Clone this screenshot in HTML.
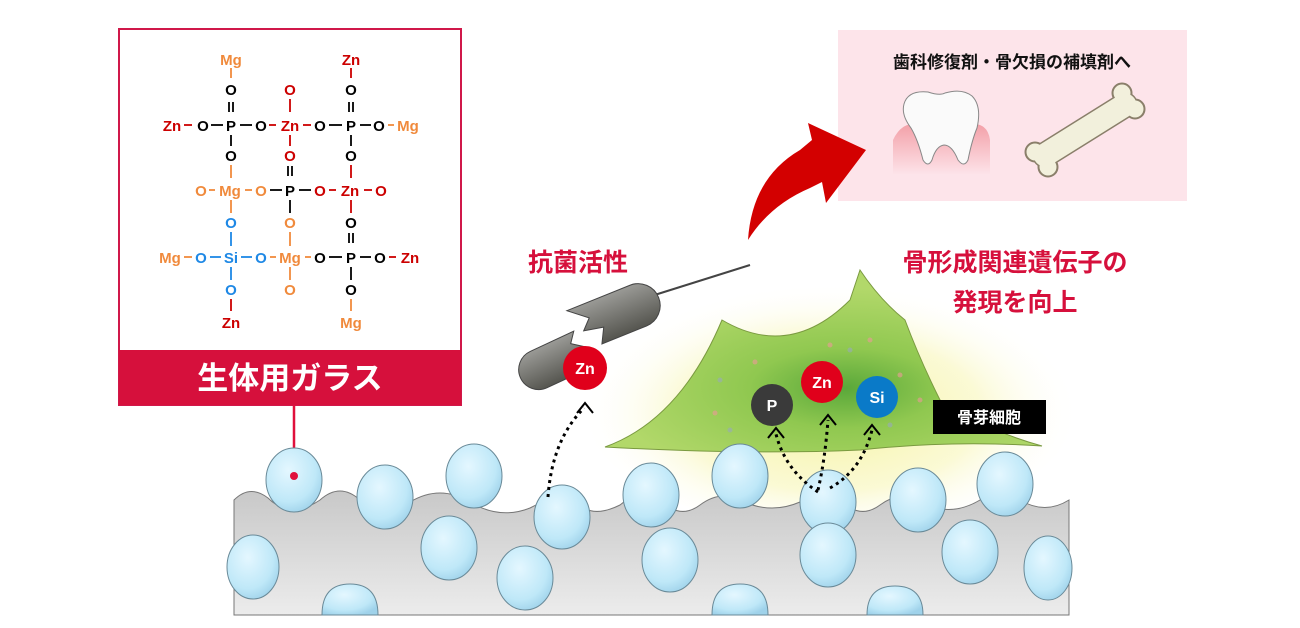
<!DOCTYPE html>
<html><head><meta charset="utf-8"><style>
html,body{margin:0;padding:0;background:#fff}
svg{display:block}
text{font-family:"Liberation Sans","Noto Sans CJK JP",sans-serif;font-weight:bold}
</style></head><body>
<svg width="1300" height="628" viewBox="0 0 1300 628" xmlns="http://www.w3.org/2000/svg">
<defs>
<radialGradient id="bub" cx="40%" cy="35%" r="70%"><stop offset="0" stop-color="#e4f7ff"/><stop offset="0.7" stop-color="#bfe8f8"/><stop offset="1" stop-color="#9fd2ea"/></radialGradient>
<linearGradient id="slab" x1="0" y1="0" x2="0" y2="1"><stop offset="0" stop-color="#c8c8c8"/><stop offset="1" stop-color="#ececec"/></linearGradient>
<radialGradient id="glow" cx="50%" cy="55%" r="50%"><stop offset="0" stop-color="#f4f29a" stop-opacity="0.95"/><stop offset="0.6" stop-color="#f8f6b8" stop-opacity="0.6"/><stop offset="1" stop-color="#fff" stop-opacity="0"/></radialGradient>
<radialGradient id="cell" cx="55%" cy="65%" r="55%"><stop offset="0" stop-color="#5aa83a"/><stop offset="0.4" stop-color="#90c850"/><stop offset="1" stop-color="#b2d86a"/></radialGradient>
<linearGradient id="gum" x1="0" y1="0" x2="0" y2="1"><stop offset="0" stop-color="#f3a0a8"/><stop offset="1" stop-color="#fde4ea"/></linearGradient>
<linearGradient id="bact" x1="0" y1="0" x2="0" y2="1"><stop offset="0" stop-color="#9a9a96"/><stop offset="1" stop-color="#55554f"/></linearGradient>
</defs>

<ellipse cx="830" cy="400" rx="250" ry="130" fill="url(#glow)"/>

<rect x="119" y="29" width="342" height="376" fill="#fff" stroke="#d0184a" stroke-width="2"/>
<rect x="119" y="350" width="342" height="55" fill="#d6103c"/>
<text x="290" y="389" font-size="31" fill="#fff" text-anchor="middle">生体用ガラス</text>
<line x1="294" y1="405" x2="294" y2="476" stroke="#e0103c" stroke-width="2.5"/>

<g font-size="15" text-anchor="middle">
<text x="231" y="65" fill="#f08a3c">Mg</text><text x="351" y="65" fill="#cc0000">Zn</text>
<text x="231" y="95" fill="#000">O</text><text x="290" y="95" fill="#cc0000">O</text><text x="351" y="95" fill="#000">O</text>
<text x="172" y="131" fill="#cc0000">Zn</text><text x="203" y="131" fill="#000">O</text><text x="231" y="131" fill="#000">P</text><text x="261" y="131" fill="#000">O</text><text x="290" y="131" fill="#cc0000">Zn</text><text x="320" y="131" fill="#000">O</text><text x="351" y="131" fill="#000">P</text><text x="379" y="131" fill="#000">O</text><text x="408" y="131" fill="#f08a3c">Mg</text>
<text x="231" y="161" fill="#000">O</text><text x="290" y="161" fill="#cc0000">O</text><text x="351" y="161" fill="#000">O</text>
<text x="201" y="196" fill="#f08a3c">O</text><text x="230" y="196" fill="#f08a3c">Mg</text><text x="261" y="196" fill="#f08a3c">O</text><text x="290" y="196" fill="#000">P</text><text x="320" y="196" fill="#cc0000">O</text><text x="350" y="196" fill="#cc0000">Zn</text><text x="381" y="196" fill="#cc0000">O</text>
<text x="231" y="228" fill="#1e88e5">O</text><text x="290" y="228" fill="#f08a3c">O</text><text x="351" y="228" fill="#000">O</text>
<text x="170" y="263" fill="#f08a3c">Mg</text><text x="201" y="263" fill="#1e88e5">O</text><text x="231" y="263" fill="#1e88e5">Si</text><text x="261" y="263" fill="#1e88e5">O</text><text x="290" y="263" fill="#f08a3c">Mg</text><text x="320" y="263" fill="#000">O</text><text x="351" y="263" fill="#000">P</text><text x="380" y="263" fill="#000">O</text><text x="410" y="263" fill="#cc0000">Zn</text>
<text x="231" y="295" fill="#1e88e5">O</text><text x="290" y="295" fill="#f08a3c">O</text><text x="351" y="295" fill="#000">O</text>
<text x="231" y="328" fill="#cc0000">Zn</text><text x="351" y="328" fill="#f08a3c">Mg</text>
</g>
<g stroke-width="1.8">
<line x1="231" y1="68" x2="231" y2="78" stroke="#f08a3c"/>
<line x1="229" y1="102" x2="229" y2="112" stroke="#000"/><line x1="233" y1="102" x2="233" y2="112" stroke="#000"/>
<line x1="231" y1="135" x2="231" y2="146" stroke="#000"/>
<line x1="231" y1="165" x2="231" y2="178" stroke="#f08a3c"/>
<line x1="231" y1="200" x2="231" y2="213" stroke="#f08a3c"/>
<line x1="231" y1="232" x2="231" y2="246" stroke="#1e88e5"/>
<line x1="231" y1="267" x2="231" y2="280" stroke="#1e88e5"/>
<line x1="231" y1="299" x2="231" y2="311" stroke="#cc0000"/>
<line x1="290" y1="99" x2="290" y2="112" stroke="#cc0000"/>
<line x1="290" y1="135" x2="290" y2="146" stroke="#cc0000"/>
<line x1="288" y1="166" x2="288" y2="176" stroke="#000"/><line x1="292" y1="166" x2="292" y2="176" stroke="#000"/>
<line x1="290" y1="200" x2="290" y2="213" stroke="#000"/>
<line x1="290" y1="232" x2="290" y2="246" stroke="#f08a3c"/>
<line x1="290" y1="267" x2="290" y2="280" stroke="#f08a3c"/>
<line x1="351" y1="68" x2="351" y2="78" stroke="#cc0000"/>
<line x1="349" y1="102" x2="349" y2="112" stroke="#000"/><line x1="353" y1="102" x2="353" y2="112" stroke="#000"/>
<line x1="351" y1="135" x2="351" y2="146" stroke="#000"/>
<line x1="351" y1="165" x2="351" y2="178" stroke="#cc0000"/>
<line x1="351" y1="200" x2="351" y2="213" stroke="#cc0000"/>
<line x1="349" y1="233" x2="349" y2="243" stroke="#000"/><line x1="353" y1="233" x2="353" y2="243" stroke="#000"/>
<line x1="351" y1="267" x2="351" y2="280" stroke="#000"/>
<line x1="351" y1="299" x2="351" y2="311" stroke="#f08a3c"/>
<line x1="184" y1="125" x2="192" y2="125" stroke="#cc0000"/>
<line x1="211" y1="125" x2="223" y2="125" stroke="#000"/><line x1="240" y1="125" x2="252" y2="125" stroke="#000"/>
<line x1="269" y1="125" x2="276" y2="125" stroke="#cc0000"/><line x1="303" y1="125" x2="311" y2="125" stroke="#cc0000"/>
<line x1="329" y1="125" x2="342" y2="125" stroke="#000"/><line x1="360" y1="125" x2="371" y2="125" stroke="#000"/>
<line x1="388" y1="125" x2="394" y2="125" stroke="#f08a3c"/>
<line x1="209" y1="190" x2="215" y2="190" stroke="#f08a3c"/><line x1="245" y1="190" x2="252" y2="190" stroke="#f08a3c"/>
<line x1="270" y1="190" x2="282" y2="190" stroke="#000"/><line x1="299" y1="190" x2="311" y2="190" stroke="#000"/>
<line x1="329" y1="190" x2="336" y2="190" stroke="#cc0000"/><line x1="364" y1="190" x2="372" y2="190" stroke="#cc0000"/>
<line x1="184" y1="257" x2="192" y2="257" stroke="#f08a3c"/>
<line x1="210" y1="257" x2="221" y2="257" stroke="#1e88e5"/><line x1="241" y1="257" x2="252" y2="257" stroke="#1e88e5"/>
<line x1="270" y1="257" x2="276" y2="257" stroke="#f08a3c"/><line x1="305" y1="257" x2="311" y2="257" stroke="#f08a3c"/>
<line x1="329" y1="257" x2="342" y2="257" stroke="#000"/><line x1="360" y1="257" x2="371" y2="257" stroke="#000"/>
<line x1="389" y1="257" x2="396" y2="257" stroke="#cc0000"/>
</g>

<rect x="838" y="30" width="349" height="171" fill="#fde4ea"/>
<text x="1012" y="68" font-size="17" fill="#111" text-anchor="middle">歯科修復剤・骨欠損の補填剤へ</text>
<path d="M893 140 Q900 125 912 124 L975 124 Q988 125 990 140 L990 175 L893 175 Z" fill="url(#gum)"/>
<path d="M904 104 Q908 90 928 92 Q940 96 945 93 Q962 88 972 96 Q982 106 977 128 Q972 140 968 160 Q964 168 958 160 Q952 145 944 145 Q936 146 932 160 Q928 168 923 160 Q918 140 911 128 Q901 115 904 104 Z" fill="#fafafa" stroke="#888" stroke-width="1"/>
<g stroke-linecap="round">
<g stroke="#8a7f6a">
<line x1="1045" y1="155" x2="1125" y2="105" stroke-width="26"/>
<circle cx="1035" cy="152" r="10" fill="#8a7f6a"/><circle cx="1048" cy="167" r="10" fill="#8a7f6a"/>
<circle cx="1122" cy="93" r="10" fill="#8a7f6a"/><circle cx="1135" cy="109" r="10" fill="#8a7f6a"/>
</g>
<line x1="1045" y1="155" x2="1125" y2="105" stroke="#f2f0dc" stroke-width="23"/>
<circle cx="1035" cy="152" r="8.5" fill="#f2f0dc"/><circle cx="1048" cy="167" r="8.5" fill="#f2f0dc"/>
<circle cx="1122" cy="93" r="8.5" fill="#f2f0dc"/><circle cx="1135" cy="109" r="8.5" fill="#f2f0dc"/>
</g>

<path d="M748 240 Q752 178 800 150 L812 140 L808 123 L866 150 L826 203 L822 182 L810 188 Q770 205 748 240 Z" fill="#d30000"/>

<text x="578" y="271" font-size="25" fill="#d6103c" text-anchor="middle">抗菌活性</text>
<text x="1015" y="271" font-size="25" fill="#d6103c" text-anchor="middle">骨形成関連遺伝子の</text>
<text x="1015" y="311" font-size="25" fill="#d6103c" text-anchor="middle">発現を向上</text>

<path d="M645 298 Q690 284 750 265" stroke="#444" stroke-width="2" fill="none"/>
<g transform="rotate(-22 615 315)">
<path d="M572 293 L640 293 A22 22 0 0 1 640 337 L592 337 L600 322 L580 318 L590 308 Z" fill="url(#bact)" stroke="#444" stroke-width="1"/>
</g>
<g transform="rotate(-25 555 362)">
<path d="M585 342 L577 352 L590 362 L580 382 L537 382 A20 20 0 0 1 537 342 Z" fill="url(#bact)" stroke="#444" stroke-width="1"/>
</g>
<circle cx="585" cy="368" r="22" fill="#e0001b"/>
<text x="585" y="374" font-size="16" fill="#fff" text-anchor="middle">Zn</text>

<path d="M605 447 Q680 420 722 320 Q790 360 850 300 L860 270 Q880 300 905 320 Q920 360 940 400 Q990 432 1042 446 Q950 440 860 450 Q750 455 605 447 Z" fill="url(#cell)" stroke="#7a9a40" stroke-width="1"/>
<g opacity="0.6">
<circle cx="720" cy="380" r="2.5" fill="#9ab"/><circle cx="755" cy="362" r="2.5" fill="#e99"/><circle cx="830" cy="345" r="2.5" fill="#e99"/><circle cx="850" cy="350" r="2.5" fill="#9ab"/><circle cx="870" cy="340" r="2.5" fill="#e99"/><circle cx="900" cy="375" r="2.5" fill="#e99"/><circle cx="920" cy="400" r="2.5" fill="#e99"/><circle cx="890" cy="425" r="2.5" fill="#9ab"/><circle cx="730" cy="430" r="2.5" fill="#9ab"/><circle cx="715" cy="413" r="2.5" fill="#e99"/>
</g>

<path d="M234 500 Q250 484 268 498 Q290 520 320 500 Q340 482 360 500 Q380 518 410 502 Q440 484 470 502 Q500 520 530 508 Q560 492 575 500 Q590 520 620 505 Q640 488 660 500 Q680 520 700 505 Q720 490 740 500 Q770 515 800 502 Q820 488 840 500 Q860 520 880 505 Q900 490 920 502 Q950 518 980 500 Q1000 486 1020 500 Q1045 515 1069 500 L1069 615 L234 615 Z" fill="url(#slab)" stroke="#777" stroke-width="1"/>

<g fill="url(#bub)" stroke="#6a8a98" stroke-width="1">
<ellipse cx="294" cy="480" rx="28" ry="32"/><ellipse cx="385" cy="497" rx="28" ry="32"/><ellipse cx="474" cy="476" rx="28" ry="32"/><ellipse cx="562" cy="517" rx="28" ry="32"/><ellipse cx="651" cy="495" rx="28" ry="32"/><ellipse cx="740" cy="476" rx="28" ry="32"/><ellipse cx="828" cy="502" rx="28" ry="32"/><ellipse cx="918" cy="500" rx="28" ry="32"/><ellipse cx="1005" cy="484" rx="28" ry="32"/>
<ellipse cx="253" cy="567" rx="26" ry="32"/><ellipse cx="449" cy="548" rx="28" ry="32"/><ellipse cx="525" cy="578" rx="28" ry="32"/><ellipse cx="670" cy="560" rx="28" ry="32"/><ellipse cx="828" cy="555" rx="28" ry="32"/><ellipse cx="970" cy="552" rx="28" ry="32"/><ellipse cx="1048" cy="568" rx="24" ry="32"/>
<path d="M322 615 Q322 584 350 584 Q378 584 378 615 Z"/><path d="M712 615 Q712 584 740 584 Q768 584 768 615 Z"/><path d="M867 615 Q867 586 895 586 Q923 586 923 615 Z"/>
</g>
<circle cx="294" cy="476" r="4" fill="#e0103c"/>

<circle cx="772" cy="405" r="21" fill="#3a3a3a"/><text x="772" y="411" font-size="16" fill="#fff" text-anchor="middle">P</text>
<circle cx="822" cy="382" r="21" fill="#e0001b"/><text x="822" y="388" font-size="16" fill="#fff" text-anchor="middle">Zn</text>
<circle cx="877" cy="397" r="21" fill="#0a7ac8"/><text x="877" y="403" font-size="16" fill="#fff" text-anchor="middle">Si</text>
<rect x="933" y="400" width="113" height="34" fill="#000"/>
<text x="989" y="423" font-size="16" fill="#fff" text-anchor="middle">骨芽細胞</text>

<g fill="none" stroke="#000" stroke-width="3" stroke-dasharray="3 4">
<path d="M548 497 Q552 440 584 408"/>
<path d="M818 492 Q785 470 776 434"/>
<path d="M818 490 Q825 460 828 420"/>
<path d="M830 488 Q862 470 872 430"/>
</g>
<g fill="none" stroke="#000" stroke-width="2">
<path d="M577 413 L585 403 L593 413"/>
<path d="M768 438 L776 428 L784 438"/>
<path d="M820 425 L828 415 L836 425"/>
<path d="M864 435 L872 425 L880 435"/>
</g>
</svg>
</body></html>
